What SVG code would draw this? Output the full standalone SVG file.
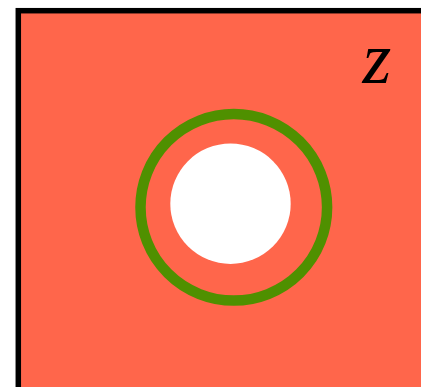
<svg xmlns="http://www.w3.org/2000/svg" width="421" height="387" viewBox="0 0 421 387">
<style>
.lbl{font-family:"Liberation Serif","DejaVu Serif",serif;font-style:italic;fill:#000}
</style>
<rect width="421" height="387" fill="#fff"/>
<g id="region">
<rect x="18.3" y="10.7" width="440" height="420" fill="#FF664B" stroke="#000" stroke-width="5.5"/>
</g>
<g id="ring">
<circle cx="233.8" cy="207.3" r="93.3" fill="none" stroke="#4F9000" stroke-width="10.5"/>
</g>
<g id="hole">
<circle cx="230.5" cy="203.7" r="60.2" fill="#fff"/>
</g>
<g id="label">
<text class="lbl" x="377" y="83" font-size="74" text-anchor="middle">z</text>
</g>
<g id="connectors"></g>
</svg>
